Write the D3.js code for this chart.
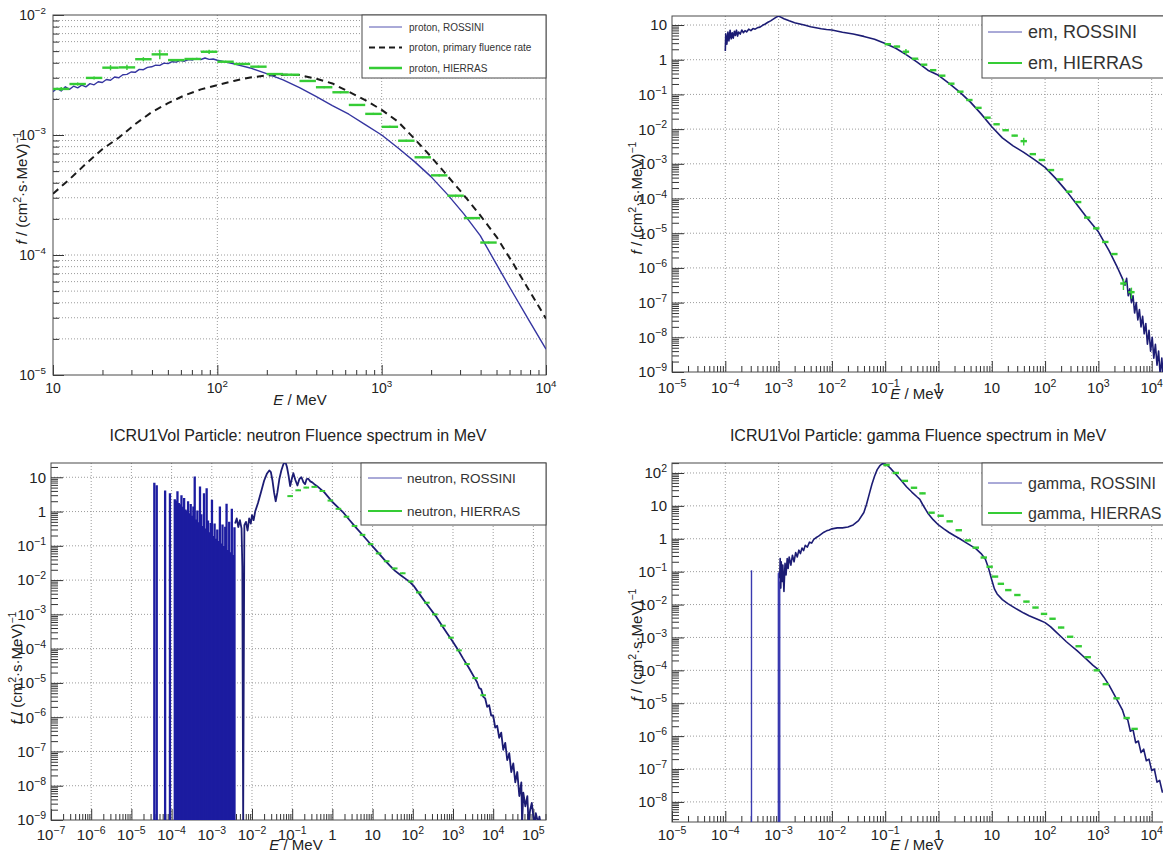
<!DOCTYPE html>
<html><head><meta charset="utf-8">
<script src="https://cdn.jsdelivr.net/npm/d3@7"></script>
<style>body{margin:0;background:#fff}svg{display:block}</style>
</head><body>
<script>
// ================= DATA =================
// ---- Panel 1: proton (E in MeV, f in (cm2 s MeV)^-1) ----
const protonXTicks = [10, 100, 1000, 10000];
const protonYTicks = [1e-5, 1e-4, 1e-3, 1e-2];
const protonRossiniE = [10,10.59,11.22,11.89,12.59,13.34,14.13,14.96,15.85,16.79,17.78,18.84,19.95,21.13,22.39,23.71,25.12,26.61,28.18,29.85,31.62,33.50,35.48,37.58,39.81,42.17,44.67,47.32,50.12,53.09,56.23,59.57,63.10,66.83,70.79,74.99,79.43,84.14,89.13,94.41,100,125.9,158.5,199.5,251.2,316.2,398.1,501.2,631.0,794.3,1000,1259,1585,1995,2512,3162,3981,5012,6310,7943,10000];
const protonRossiniF = [2.30e-3,2.45e-3,2.33e-3,2.52e-3,2.40e-3,2.55e-3,2.47e-3,2.60e-3,2.52e-3,2.68e-3,2.62e-3,2.78e-3,2.74e-3,2.90e-3,2.86e-3,3.04e-3,3.00e-3,3.18e-3,3.20e-3,3.35e-3,3.33e-3,3.52e-3,3.50e-3,3.66e-3,3.70e-3,3.82e-3,3.80e-3,3.97e-3,3.93e-3,4.08e-3,4.05e-3,4.18e-3,4.12e-3,4.25e-3,4.22e-3,4.35e-3,4.26e-3,4.38e-3,4.27e-3,4.30e-3,4.20e-3,3.92e-3,3.62e-3,3.25e-3,2.88e-3,2.48e-3,2.10e-3,1.76e-3,1.49e-3,1.22e-3,1.00e-3,7.8e-4,6.0e-4,4.5e-4,3.2e-4,2.2e-4,1.45e-4,8.3e-5,4.8e-5,2.8e-5,1.64e-5];
const protonPrimaryE = [10,12.59,15.85,19.95,25.12,31.62,39.81,50.12,63.10,79.43,100,125.9,158.5,199.5,251.2,316.2,398.1,501.2,631.0,794.3,1000,1259,1585,1995,2512,3162,3981,5012,6310,7943,10000];
const protonPrimaryF = [3.24e-4,4.27e-4,5.75e-4,7.6e-4,9.5e-4,1.23e-3,1.55e-3,1.84e-3,2.14e-3,2.40e-3,2.60e-3,2.82e-3,3.02e-3,3.13e-3,3.18e-3,3.16e-3,2.95e-3,2.69e-3,2.29e-3,1.95e-3,1.62e-3,1.29e-3,9.3e-4,6.6e-4,4.57e-4,3.16e-4,2.14e-4,1.41e-4,8.5e-5,5.0e-5,2.95e-5];
const protonHierrasEdges = [10,12.59,15.85,19.95,25.12,31.62,39.81,50.12,63.10,79.43,100,125.9,158.5,199.5,251.2,316.2,398.1,501.2,631.0,794.3,1000,1259,1585,1995,2512,3162,3981,5012];
const protonHierrasF = [2.42e-3,2.66e-3,2.99e-3,3.64e-3,3.66e-3,4.28e-3,4.70e-3,4.21e-3,4.30e-3,4.94e-3,4.08e-3,3.91e-3,3.71e-3,3.22e-3,3.18e-3,2.82e-3,2.50e-3,2.27e-3,1.78e-3,1.50e-3,1.17e-3,8.96e-4,6.52e-4,4.61e-4,3.12e-4,2.03e-4,1.27e-4];
const protonHierrasErr = [0.04,0.03,0.03,0.05,0.05,0.04,0.09,0.02,0.02,0.04,0.02,0.02,0.02,0.02,0.02,0.02,0.02,0.02,0.02,0.02,0.02,0.02,0.02,0.02,0.02,0.02,0.02];

// ---- shared ticks for the wide-range panels ----
const wideXTicks = [1e-5,1e-4,1e-3,1e-2,1e-1,1,10,100,1000,10000];
const neutronXTicks = [1e-7,1e-6,1e-5,1e-4,1e-3,1e-2,1e-1,1,10,100,1000,1e4,1e5];
const emYTicks = [1e-9,1e-8,1e-7,1e-6,1e-5,1e-4,1e-3,1e-2,1e-1,1,10];
const neutronYTicks = [1e-9,1e-8,1e-7,1e-6,1e-5,1e-4,1e-3,1e-2,1e-1,1,10];
const gammaYTicks = [1e-8,1e-7,1e-6,1e-5,1e-4,1e-3,1e-2,1e-1,1,10,100];

// ---- Panel 2: em ----
const emRossiniE = [1.0e-4,1.02e-4,1.07e-4,1.12e-4,1.17e-4,1.23e-4,1.29e-4,1.35e-4,1.41e-4,1.48e-4,1.55e-4,1.62e-4,1.70e-4,1.78e-4,1.91e-4,2.04e-4,2.19e-4,2.34e-4,2.51e-4,2.75e-4,3.02e-4,3.31e-4,3.63e-4,3.98e-4,4.47e-4,5.01e-4,5.62e-4,6.31e-4,7.08e-4,7.94e-4,8.91e-4,1.0e-3,
 1.12e-3,1.26e-3,1.58e-3,2.0e-3,2.51e-3,3.16e-3,3.98e-3,5.01e-3,6.31e-3,7.94e-3,0.01,
 0.0158,0.0251,0.0398,0.0631,0.1,0.158,0.251,0.398,0.631,1,1.58,2.51,3.98,6.31,10,15.8,25.1,39.8,63.1,100,158,251,398,631,1000,1585,2188,
 2818,3162,3388,3631,3890,4169,4467,4786,5129,5495,5888,6310,6761,7244,7762,8318,8913,9550,10233,10965,11749,12589,13490,14454,15488,16596,17783];
const emRossiniF = [1.78,5.6,2.8,6.3,3.5,7.1,4.0,6.0,4.2,6.6,5.0,7.1,4.8,6.3,5.5,7.2,6.0,6.9,6.3,7.6,6.9,7.9,7.6,8.3,8.7,9.8,10.7,12.0,13.2,14.8,16.6,18.2,
 16.6,15.1,13.2,11.7,10.7,9.8,8.9,8.3,7.8,7.4,7.2,
 6.2,5.5,4.7,3.9,2.95,2.14,1.38,0.85,0.50,0.355,0.209,0.117,0.060,0.0275,0.0117,5.6e-3,3.3e-3,2.14e-3,1.32e-3,7.9e-4,3.8e-4,1.66e-4,6.6e-5,2.63e-5,1.10e-5,3.16e-6,1.17e-6,
 5.0e-7,3.16e-7,5.0e-7,1.58e-7,2.51e-7,1.0e-7,1.58e-7,5.0e-8,1.0e-7,3.16e-8,6.3e-8,2.0e-8,4.0e-8,1.26e-8,2.51e-8,6.3e-9,1.58e-8,4.0e-9,1.0e-8,2.51e-9,6.3e-9,1.58e-9,4.0e-9,7.9e-10,2.51e-9,6.3e-10,1.58e-9];
const emHierrasE = [0.112,0.166,0.245,0.363,0.537,0.794,1.175,1.74,2.57,3.80,5.62,8.32,12.3,18.2,26.9,39.8,58.9,87.1,129,191,282,417,617,912,1349,1995,2951,4169];
const emHierrasF = [2.8,2.40,1.70,1.07,0.72,0.50,0.347,0.204,0.120,0.069,0.041,0.0214,0.0138,9.3e-3,6.5e-3,4.5e-3,1.9e-3,1.29e-3,6.6e-4,3.55e-4,1.58e-4,7.9e-5,2.82e-5,1.38e-5,5.6e-6,2.51e-6,3.55e-7,2.0e-7];
const emHierrasErr = [0.05,0.05,0.2,0.05,0.05,0.05,0.05,0.05,0.05,0.05,0.05,0.05,0.05,0.05,0.05,0.25,0.05,0.05,0.05,0.05,0.05,0.05,0.05,0.05,0.05,0.05,0.35,0.35];

// ---- Panel 3: neutron ----
const neutronSpikeE = [3.72e-5,4.27e-5,6.9e-5,9.1e-5,
 1.20e-4,1.30e-4,1.40e-4,1.51e-4,1.63e-4,1.76e-4,1.90e-4,2.05e-4,2.21e-4,2.38e-4,2.57e-4,2.77e-4,2.99e-4,3.23e-4,3.48e-4,3.76e-4,4.06e-4,4.38e-4,4.72e-4,5.09e-4,5.50e-4,5.93e-4,6.40e-4,6.90e-4,7.45e-4,8.04e-4,8.67e-4,9.35e-4,
 1.01e-3,1.09e-3,1.175e-3,1.27e-3,1.37e-3,1.48e-3,1.59e-3,1.72e-3,1.85e-3,2.00e-3,2.16e-3,2.33e-3,2.51e-3,2.71e-3,2.92e-3,3.15e-3,3.40e-3,3.67e-3];
const neutronSpikeF = [6.9,5.9,4.1,3.4,
 2.3,2.1,3.9,1.78,1.62,3.0,1.38,2.5,1.15,1.07,2.0,0.89,1.66,0.76,1.4,10.5,0.59,1.08,0.49,5.4,0.84,0.38,3.4,0.32,4.8,0.55,0.25,0.46,
 2.2,0.195,0.45,0.162,0.30,0.138,1.4,0.117,0.42,0.098,0.36,1.7,0.076,0.50,0.065,1.2,0.054,0.35];
const neutronRossiniE = [3.80e-3,4.17e-3,4.57e-3,5.01e-3,5.50e-3,5.75e-3,6.03e-3,6.46e-3,7.08e-3,7.76e-3,8.51e-3,9.33e-3,1.0e-2,
 1.10e-2,1.20e-2,1.41e-2,1.66e-2,2.0e-2,2.34e-2,2.69e-2,2.95e-2,3.24e-2,3.55e-2,3.89e-2,4.27e-2,4.79e-2,5.37e-2,6.03e-2,6.76e-2,7.41e-2,8.13e-2,8.91e-2,9.77e-2,
 0.107,0.120,0.135,0.151,0.170,0.191,0.209,0.229,0.251,0.282,0.316,0.355,0.417,0.501,0.631,0.794,1.0,
 1.38,1.91,2.63,3.63,5.50,8.32,12.6,19.5,26.9,36.3,50.1,69.2,85.1,105,141,195,269,372,501,692,955,1318,1778,2455,3388,
 3981,4467,5012,5623,6310,7079,7943,8913,10000,11220,12589,14125,15849,17783,19953,22387,25119,28184,31623,35481,39811,44668,50119,
 52481,56234,63096,70795,75858,83176,91201,100000,107152,114815,125893,131826,141254,151356];
const neutronRossiniF = [0.447,0.63,0.355,0.56,0.316,0.025,0,0.40,0.50,0.28,0.63,0.447,0.79,
 0.56,1.0,1.78,3.55,7.9,12.6,15.8,14.1,7.9,3.55,2.0,3.55,8.9,15.8,24.0,28.2,20.0,11.2,5.5,8.9,
 13.2,8.3,5.75,8.9,10.0,7.1,6.3,8.9,9.1,7.6,7.1,6.3,5.5,4.57,3.63,2.63,1.9,
 1.32,0.91,0.575,0.37,0.214,0.123,0.0708,0.0398,0.0263,0.0186,0.0138,0.0105,8.7e-3,6.8e-3,4.17e-3,2.45e-3,1.48e-3,8.9e-4,5.2e-4,2.95e-4,1.70e-4,9.5e-5,5.2e-5,2.82e-5,1.45e-5,
 1.05e-5,7.1e-6,6.6e-6,4.0e-6,3.55e-6,2.0e-6,2.24e-6,1.12e-6,1.12e-6,5.0e-7,5.6e-7,2.51e-7,3.55e-7,1.12e-7,1.78e-7,5.6e-8,8.9e-8,2.51e-8,4.5e-8,1.26e-8,2.51e-8,5.0e-9,1.26e-8,
 0,6.3e-9,2.51e-9,5.0e-9,0,2.0e-9,3.16e-9,1.26e-9,0,1.58e-9,1.0e-9,0,1.26e-9,0];
const neutronHierrasE = [0.0891,0.141,0.224,0.355,0.562,0.891,1.41,2.24,3.55,5.62,8.91,14.1,22.4,35.5,56.2,89.1,141,224,355,562,891,1413,2239,3548,5623];
const neutronHierrasF = [2.82,4.17,5.0,5.25,3.98,2.09,1.20,0.708,0.38,0.209,0.112,0.060,0.0355,0.0219,0.0158,9.1e-3,4.37e-3,2.19e-3,1.0e-3,4.68e-4,2.09e-4,8.9e-5,3.55e-5,1.38e-5,4.37e-6];

// ---- Panel 4: gamma ----
const gammaSpikeE = [3.1e-4, 9.9e-4, 1.02e-3, 1.05e-3];
const gammaSpikeF = [0.11, 0.09, 0.10, 0.05];
const gammaRossiniE = [1.05e-3,1.07e-3,1.10e-3,1.12e-3,1.17e-3,1.20e-3,1.26e-3,1.32e-3,1.38e-3,1.45e-3,1.51e-3,1.58e-3,1.70e-3,1.82e-3,1.95e-3,2.09e-3,2.24e-3,2.40e-3,2.57e-3,2.75e-3,2.95e-3,3.16e-3,3.47e-3,3.80e-3,4.17e-3,4.57e-3,5.01e-3,5.62e-3,6.31e-3,7.08e-3,7.94e-3,8.91e-3,0.01,
 0.0126,0.0158,0.02,0.0251,0.0316,0.0398,0.0447,0.0501,0.0562,0.0631,0.0708,0.0794,0.0891,0.1,0.112,0.126,0.158,0.2,0.251,0.316,0.398,0.447,0.501,0.631,0.794,
 1,1.26,1.58,2.0,2.51,3.16,3.98,5.01,6.31,7.59,8.71,10,11.2,12.6,15.8,20.0,25.1,31.6,39.8,50.1,63.1,79.4,100,
 126,158,200,251,316,398,501,631,794,1000,1259,1585,1995,2512,2818,3162,3548,3981,4467,5012,5623,6310,7079,7943,8913,10000,11220,12589,14125,15849,17783];
const gammaRossiniF = [0.063,0.25,0.0316,0.20,0.050,0.158,0.025,0.178,0.079,0.25,0.126,0.28,0.158,0.316,0.20,0.38,0.28,0.45,0.355,0.525,0.437,0.63,0.56,0.79,0.74,0.955,1.07,1.20,1.38,1.585,1.74,1.86,2.0,
 2.14,2.14,2.29,2.63,3.55,6.3,11.2,22.4,44.7,79.4,126,166,191,186,166,138,91,59,38,26.3,18.6,15.8,11.2,6.0,3.8,
 2.63,2.0,1.55,1.23,1.0,0.79,0.63,0.50,0.355,0.24,0.126,0.056,0.030,0.021,0.0141,0.0107,8.5e-3,6.8e-3,5.5e-3,4.57e-3,3.89e-3,3.31e-3,2.82e-3,
 2.14e-3,1.51e-3,1.05e-3,7.4e-4,5.4e-4,3.98e-4,2.82e-4,2.0e-4,1.41e-4,1.05e-4,6.3e-5,3.55e-5,1.78e-5,8.9e-6,6.3e-6,3.55e-6,3.16e-6,1.41e-6,1.58e-6,6.3e-7,7.1e-7,3.16e-7,4.0e-7,1.78e-7,2.0e-7,8.9e-8,1.0e-7,4.0e-8,4.5e-8,2.0e-8,2.24e-8];
const gammaHierrasE = [0.106,0.158,0.234,0.347,0.501,0.741,1.096,1.62,2.40,3.55,5.01,7.08,9.12,11.5,14.8,20.4,30.2,44.7,66.1,95.5,138,200,295,427,631,933,1380,2188,3388,4786];
const gammaHierrasF = [174,100,57.5,35.5,24.0,6.2,5.0,3.39,1.82,0.89,0.537,0.269,0.141,0.0708,0.0427,0.0275,0.0195,0.0123,8.1e-3,5.2e-3,3.7e-3,2.0e-3,1.05e-3,5.4e-4,2.51e-4,1.0e-4,3.8e-5,1.41e-5,3.55e-6,1.66e-6];

// ================= DRAWING =================
const FONT = '"Liberation Sans", Arial, Helvetica, sans-serif';
const BLUE = "#1c1c74", GREEN = "#35cc35", TXT = "#222";
const svg = d3.select("body").append("svg").attr("width", 1163).attr("height", 852)
  .style("font-family", FONT);
svg.append("rect").attr("width", 1163).attr("height", 852).attr("fill", "#fff");
const defs = svg.append("defs");

function richText(sel, parts, fs) {
  let shifted = false;
  parts.forEach(p => {
    const t = sel.append("tspan").text(p.t);
    if (p.italic) t.attr("font-style", "italic");
    if (p.sup) { t.attr("font-size", fs * 0.7).attr("dy", -fs * 0.42); shifted = true; }
    else if (shifted) { t.attr("dy", fs * 0.42); shifted = false; }
  });
}
function powParts(v) {
  const k = Math.round(Math.log10(v));
  if (k === 0) return [{t: "1"}];
  if (k === 1) return [{t: "10"}];
  return [{t: "10"}, {t: (k < 0 ? "\u2212" : "") + Math.abs(k), sup: true}];
}
function minorsOf(dom) {
  const out = [];
  const k0 = Math.floor(Math.log10(dom[0])), k1 = Math.ceil(Math.log10(dom[1]));
  for (let k = k0; k <= k1; k++) for (let m = 2; m <= 9; m++) {
    const v = m * Math.pow(10, k);
    if (v > dom[0] && v < dom[1]) out.push(v);
  }
  return out;
}

function panel(c) {
  const x = d3.scaleLog().domain(c.xDomain).range([c.left, c.right]);
  const y = d3.scaleLog().domain(c.yDomain).range([c.bottom, c.top]);
  const g = svg.append("g");
  const clipId = "clip-" + c.id;
  defs.append("clipPath").attr("id", clipId).append("rect")
    .attr("x", c.left).attr("y", c.top).attr("width", c.right - c.left).attr("height", c.bottom - c.top);
  const xMin = minorsOf(c.xDomain), yMin = minorsOf(c.yDomain);
  const grid = g.append("g").attr("stroke", "#9c9c9c").attr("stroke-width", 1).attr("stroke-dasharray", "1,2");
  c.xTicks.filter(v => x(v) > c.left + 1 && x(v) < c.right - 1).forEach(v =>
    grid.append("line").attr("x1", x(v)).attr("x2", x(v)).attr("y1", c.top).attr("y2", c.bottom));
  (c.yMinorGrid ? c.yTicks.concat(yMin) : c.yTicks).filter(v => y(v) > c.top + 1 && y(v) < c.bottom - 1).forEach(v =>
    grid.append("line").attr("y1", y(v)).attr("y2", y(v)).attr("x1", c.left).attr("x2", c.right));
  const ax = g.append("g").attr("color", "#333");
  ax.append("g").attr("transform", `translate(0,${c.bottom})`)
    .call(d3.axisBottom(x).tickValues(c.xTicks).tickSize(-c.xMajorLen).tickFormat(""))
    .call(a => a.select(".domain").remove());
  ax.append("g").attr("transform", `translate(0,${c.bottom})`)
    .call(d3.axisBottom(x).tickValues(xMin).tickSize(-c.xMinorLen).tickFormat(""))
    .call(a => a.select(".domain").remove());
  ax.append("g").attr("transform", `translate(${c.left},0)`)
    .call(d3.axisLeft(y).tickValues(c.yTicks).tickSize(-c.yMajorLen).tickFormat(""))
    .call(a => a.select(".domain").remove());
  ax.append("g").attr("transform", `translate(${c.left},0)`)
    .call(d3.axisLeft(y).tickValues(yMin).tickSize(-c.yMinorLen).tickFormat(""))
    .call(a => a.select(".domain").remove());
  g.append("rect").attr("x", c.left).attr("y", c.top).attr("width", c.right - c.left)
    .attr("height", c.bottom - c.top).attr("fill", "none").attr("stroke", "#4a4a4a").attr("stroke-width", 1);
  const lab = g.append("g").attr("fill", TXT).attr("font-size", c.tickFs);
  c.xTicks.forEach(v => {
    const t = lab.append("text").attr("x", x(v)).attr("y", c.xLabelY).attr("text-anchor", "middle");
    richText(t, powParts(v), c.tickFs);
  });
  c.yTicks.forEach(v => {
    const t = lab.append("text").attr("x", c.yLabelX).attr("y", y(v) + c.tickFs * 0.36).attr("text-anchor", "end");
    richText(t, powParts(v), c.tickFs);
  });
  const xt = g.append("text").attr("x", c.xTitle[0]).attr("y", c.xTitle[1]).attr("text-anchor", "middle")
    .attr("font-size", c.titleFs).attr("fill", TXT);
  richText(xt, [{t: "E", italic: true}, {t: " / MeV"}], c.titleFs);
  const yt = g.append("text").attr("transform", `translate(${c.yTitle[0]},${c.yTitle[1]}) rotate(-90)`)
    .attr("text-anchor", "middle").attr("dy", "0.35em").attr("font-size", c.titleFs).attr("fill", TXT);
  richText(yt, [{t: "f", italic: true}, {t: " / (cm"}, {t: "2", sup: true}, {t: "\u00b7s\u00b7MeV)"}, {t: "\u22121", sup: true}], c.titleFs);
  const plot = g.append("g").attr("clip-path", `url(#${clipId})`);
  return {x, y, plot, c};
}

function drawLine(p, E, F, opt) {
  const data = E.map((e, i) => ({e, f: F[i]})).filter(d => d.f !== undefined);
  const line = d3.line().x(d => p.x(d.e)).y(d => d.f > 0 ? p.y(d.f) : p.c.bottom + 4);
  p.plot.append("path").attr("d", line(data)).attr("fill", "none").attr("stroke", opt.color)
    .attr("stroke-width", opt.width).attr("stroke-linejoin", "round")
    .attr("stroke-dasharray", opt.dash || null);
}
function drawSpikes(p, E, F, opt) {
  E.forEach((e, i) => {
    p.plot.append("line").attr("x1", p.x(e)).attr("x2", p.x(e)).attr("y1", p.c.bottom + 2).attr("y2", p.y(F[i]))
      .attr("stroke", opt.color).attr("stroke-width", opt.width);
  });
}
function drawHierras(p, lo, hi, mid, F, err, opt) {
  F.forEach((f, i) => {
    p.plot.append("line").attr("x1", p.x(lo[i])).attr("x2", p.x(hi[i])).attr("y1", p.y(f)).attr("y2", p.y(f))
      .attr("stroke", GREEN).attr("stroke-width", opt.width);
    const e = err ? err[i] : 0.05;
    p.plot.append("line").attr("x1", p.x(mid[i])).attr("x2", p.x(mid[i]))
      .attr("y1", p.y(f * (1 - e))).attr("y2", p.y(f * (1 + e)))
      .attr("stroke", GREEN).attr("stroke-width", 1.4);
  });
}
function hierrasBins(E, halfDec) {
  const k = Math.pow(10, halfDec);
  return {lo: E.map(e => e / k), hi: E.map(e => e * k)};
}
function legend(L) {
  const g = svg.append("g");
  g.append("rect").attr("x", L.x).attr("y", L.y).attr("width", L.w).attr("height", L.h)
    .attr("fill", "#fff").attr("stroke", "#4a4a4a").attr("stroke-width", 1);
  L.rows.forEach(r => {
    g.append("line").attr("x1", L.lx1).attr("x2", L.lx2).attr("y1", r.y).attr("y2", r.y)
      .attr("stroke", r.color).attr("stroke-width", r.width).attr("stroke-dasharray", r.dash || null);
    g.append("text").attr("x", L.tx).attr("y", r.y).attr("dy", "0.36em").attr("font-size", L.fs)
      .attr("fill", "#333").text(r.label);
  });
}

// ---------- Panel 1 ----------
const p1 = panel({id: "proton", left: 53, right: 546, top: 15, bottom: 375,
  xDomain: [10, 1e4], yDomain: [1e-5, 1e-2], xTicks: protonXTicks, yTicks: protonYTicks, yMinorGrid: true,
  xMajorLen: 10, xMinorLen: 5, yMajorLen: 11, yMinorLen: 6,
  tickFs: 14, xLabelY: 393, yLabelX: 46, titleFs: 15, xTitle: [300, 405], yTitle: [22, 188]});
drawLine(p1, protonPrimaryE, protonPrimaryF, {color: "#1a1a1a", width: 2, dash: "7,5"});
drawLine(p1, protonRossiniE, protonRossiniF, {color: "#3535a0", width: 1.4});
drawHierras(p1, protonHierrasEdges.slice(0, -1), protonHierrasEdges.slice(1),
  protonHierrasEdges.slice(0, -1).map((e, i) => Math.sqrt(e * protonHierrasEdges[i + 1])),
  protonHierrasF, protonHierrasErr, {width: 2.4});
legend({x: 362, y: 15, w: 184, h: 63, lx1: 369, lx2: 402, tx: 409, fs: 10, rows: [
  {y: 27, color: "#5555b0", width: 1, label: "proton, ROSSINI"},
  {y: 47.5, color: "#1a1a1a", width: 2, dash: "6,4", label: "proton, primary fluence rate"},
  {y: 68, color: GREEN, width: 2.4, label: "proton, HIERRAS"}]});

// ---------- Panel 2 ----------
const p2 = panel({id: "em", left: 672, right: 1165, top: 16, bottom: 372,
  xDomain: [1e-5, 17783], yDomain: [1e-9, 18.2], xTicks: wideXTicks, yTicks: emYTicks, yMinorGrid: false,
  xMajorLen: 11, xMinorLen: 6, yMajorLen: 12, yMinorLen: 7,
  tickFs: 15, xLabelY: 393, yLabelX: 667, titleFs: 15, xTitle: [917, 399], yTitle: [637, 198]});
drawLine(p2, emRossiniE, emRossiniF, {color: BLUE, width: 1.6});
{ const b = hierrasBins(emHierrasE, 0.06); drawHierras(p2, b.lo, b.hi, emHierrasE, emHierrasF, emHierrasErr, {width: 2.4}); }
legend({x: 982, y: 16, w: 220, h: 62, lx1: 988, lx2: 1022, tx: 1028, fs: 18, rows: [
  {y: 32, color: "#5555b0", width: 1, label: "em, ROSSINI"},
  {y: 63, color: GREEN, width: 2, label: "em, HIERRAS"}]});

// ---------- Panel 3 ----------
svg.append("text").attr("x", 298).attr("y", 441).attr("text-anchor", "middle").attr("font-size", 16)
  .attr("fill", TXT).text("ICRU1Vol Particle: neutron Fluence spectrum in MeV");
const p3 = panel({id: "neutron", left: 51, right: 546, top: 463, bottom: 820,
  xDomain: [1e-7, 2.06e5], yDomain: [1e-9, 26.1], xTicks: neutronXTicks, yTicks: neutronYTicks, yMinorGrid: false,
  xMajorLen: 11, xMinorLen: 6, yMajorLen: 12, yMinorLen: 7,
  tickFs: 15, xLabelY: 840, yLabelX: 46, titleFs: 15, xTitle: [296, 850], yTitle: [17, 668]});
drawSpikes(p3, neutronSpikeE, neutronSpikeF, {color: "#1c1ca0", width: 2.3});
drawLine(p3, neutronRossiniE, neutronRossiniF, {color: BLUE, width: 1.8});
{ const b = hierrasBins(neutronHierrasE, 0.07); drawHierras(p3, b.lo, b.hi, neutronHierrasE, neutronHierrasF, null, {width: 2}); }
legend({x: 361, y: 463, w: 185, h: 62, lx1: 368, lx2: 402, tx: 407, fs: 13.5, rows: [
  {y: 478, color: "#5555b0", width: 1, label: "neutron, ROSSINI"},
  {y: 511, color: GREEN, width: 2, label: "neutron, HIERRAS"}]});

// ---------- Panel 4 ----------
svg.append("text").attr("x", 918).attr("y", 441).attr("text-anchor", "middle").attr("font-size", 16)
  .attr("fill", TXT).text("ICRU1Vol Particle: gamma Fluence spectrum in MeV");
const p4 = panel({id: "gamma", left: 672, right: 1165, top: 463, bottom: 822,
  xDomain: [1e-5, 17783], yDomain: [2.45e-9, 201], xTicks: wideXTicks, yTicks: gammaYTicks, yMinorGrid: false,
  xMajorLen: 11, xMinorLen: 6, yMajorLen: 12, yMinorLen: 7,
  tickFs: 15, xLabelY: 840, yLabelX: 667, titleFs: 15, xTitle: [917, 850], yTitle: [637, 645]});
drawSpikes(p4, gammaSpikeE, gammaSpikeF, {color: "#3a3ab0", width: 1.4});
drawLine(p4, gammaRossiniE, gammaRossiniF, {color: BLUE, width: 1.6});
{ const b = hierrasBins(gammaHierrasE, 0.06); drawHierras(p4, b.lo, b.hi, gammaHierrasE, gammaHierrasF, null, {width: 2.4}); }
legend({x: 982, y: 463, w: 220, h: 62, lx1: 988, lx2: 1022, tx: 1028, fs: 16, rows: [
  {y: 483, color: "#5555b0", width: 1, label: "gamma, ROSSINI"},
  {y: 513, color: GREEN, width: 2, label: "gamma, HIERRAS"}]});
</script>
</body></html>
